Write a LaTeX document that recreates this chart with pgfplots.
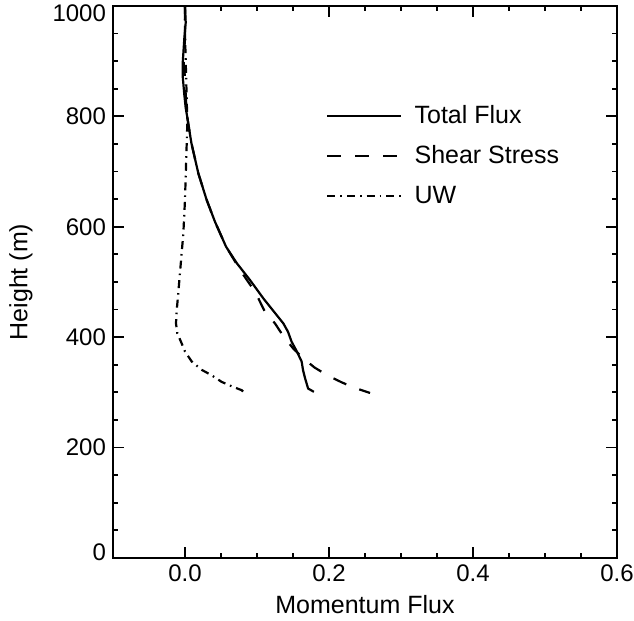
\documentclass[border=0pt]{standalone}
\usepackage{pgfplots}
\pgfplotsset{compat=1.18}
\usepackage{fontspec}
\setmainfont{Liberation Sans}
\begin{document}
\begin{tikzpicture}
\path[use as bounding box] (-56.5pt,-31.5pt) rectangle (260.5pt,279pt);
\begin{axis}[
  scale only axis,
  width=252pt, height=276pt,
  anchor=south west, at={(0pt,0pt)},
  xmin=-0.1, xmax=0.6, ymin=0, ymax=1000,
  xtick={0,0.2,0.4,0.6}, ytick={0,200,400,600,800,1000},
  yticklabels={\raisebox{6pt}{0},200,400,600,800,\raisebox{0pt}[16pt][0pt]{1000}},
  minor x tick num=3, minor y tick num=3,
  xticklabels={0.0,0.2,0.4,0.6},
  tick align=inside,
  major tick length=5.5pt, minor tick length=2.5pt,
  every tick/.style={black, line width=0.9pt},
  axis line style={line width=1.3pt},
  /pgf/number format/assume math mode=true,
  /pgf/number format/1000 sep={},
  ticklabel style={font=\fontsize{12}{14}\selectfont},
  xlabel={Momentum Flux}, ylabel={Height (m)},
  every axis x label/.style={at={(axis description cs:0.5,0)}, yshift=-23.5pt, anchor=center, font=\fontsize{12.5}{15}\selectfont},
  every axis y label/.style={at={(axis description cs:0,0.5)}, xshift=-46pt, rotate=90, anchor=center, font=\fontsize{12.5}{15}\selectfont},
  legend cell align=left,
  legend style={draw=none, fill=none, at={(rel axis cs:0.4226,0.831)}, anchor=north west,
    font=\fontsize{12.5}{15}\selectfont, row sep=3.5pt, inner sep=0pt,
    nodes={inner sep=3pt}},
  legend image code/.code={\draw[#1] (0pt,0pt) -- (37pt,0pt);},
]
\addplot[black, line width=1.1pt] coordinates {
(0.000,1000) (0.001,970) (-0.001,940) (-0.003,900) (-0.003,870) (-0.001,840)
(0.001,815) (0.003,800) (0.006,775) (0.009,751) (0.0185,697) (0.030,649)
(0.0417,609) (0.057,564) (0.072,534) (0.081,519) (0.090,504) (0.109,470)
(0.1366,425) (0.143,410) (0.148,392) (0.155,375) (0.162,356) (0.164,340)
(0.1667,326) (0.171,307) (0.179,301)
};
\addlegendentry{\hspace{3pt}Total Flux}
\addplot[black, line width=1.1pt, dash pattern=on 7pt off 7pt] coordinates {
(0.000,1000) (0.000,970) (0.000,940) (-0.002,900) (0.000,870) (0.001,840)
(0.002,815) (0.003,800) (0.006,775) (0.009,751) (0.0185,697) (0.030,649)
(0.0417,609) (0.057,564) (0.071,534) (0.080,515) (0.0926,491) (0.102,470)
(0.111,446) (0.125,425) (0.137,401) (0.150,380) (0.164,362) (0.180,345)
(0.199,330) (0.218,318) (0.236,308) (0.257,299)
};
\addlegendentry{\hspace{3pt}Shear Stress}
\addplot[black, line width=1.1pt, dash pattern=on 4pt off 2.5pt on 0.8pt off 2.5pt] coordinates {
(0.000,1000) (0.000,950) (0.001,900) (0.002,850) (0.003,800) (0.003,778)
(0.0014,709) (0.000,649) (-0.0023,588) (-0.007,516) (-0.010,470) (-0.0115,449)
(-0.0125,425) (-0.0107,407) (-0.005,390) (0.000,374) (0.0093,356) (0.023,341)
(0.037,331) (0.051,319) (0.065,311) (0.0787,304) (0.082,300)
};
\addlegendentry{\hspace{3pt}UW}
\end{axis}
\end{tikzpicture}
\end{document}
